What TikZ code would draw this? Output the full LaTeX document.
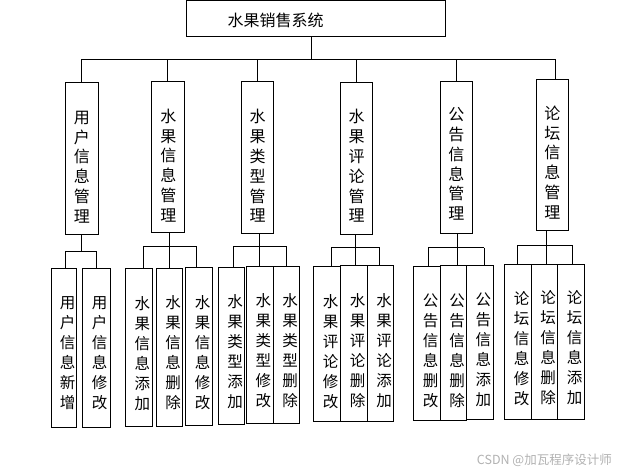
\documentclass[tikz,border=0pt]{standalone}
\usepackage{fontspec}
\newfontfamily\cjk{Noto Sans CJK SC}
\begin{document}
\begin{tikzpicture}[x=1pt,y=-1pt,
  box/.style={draw, line width=1pt, rectangle, inner sep=0pt},
  ln/.style={line width=1pt},
  vtA/.style={font=\cjk\fontsize{16}{19.8}\selectfont, align=center, inner sep=0pt},
  vtB/.style={font=\cjk\fontsize{15.5}{20}\selectfont, align=center, inner sep=0pt},
  ttl/.style={font=\cjk\fontsize{16}{19}\selectfont, inner sep=0pt},
  wm/.style={font=\cjk\fontsize{12.5}{14}\selectfont, text=black!30, inner sep=0pt}
]
\useasboundingbox (0,0) rectangle (618,471);
\fill[white] (0,0) rectangle (618,471);

% top box
\node[box, minimum width=259pt, minimum height=35.5pt] (top) at (315.5,18.25) {};
\node[ttl] (topt) at (275.5,20) {水果销售系统};

% level 1
\node[box, minimum width=33pt, minimum height=152pt] (m1) at (81.8,158) {};
\node[box, minimum width=33pt, minimum height=151pt] (m2) at (167.8,156.5) {};
\node[box, minimum width=32.4pt, minimum height=152pt] (m3) at (257.5,157) {};
\node[box, minimum width=32.4pt, minimum height=152pt] (m4) at (356.5,158) {};
\node[box, minimum width=32pt, minimum height=152pt] (m5) at (456.3,157) {};
\node[box, minimum width=32pt, minimum height=151pt] (m6) at (552.3,154.5) {};

\node[vtA] (m1t) at ([yshift=-9pt]m1.center) {用\\户\\信\\息\\管\\理};
\node[vtA] (m2t) at ([xshift=0.5pt,yshift=-9pt]m2.center) {水\\果\\信\\息\\管\\理};
\node[vtA] (m3t) at ([yshift=-9pt]m3.center) {水\\果\\类\\型\\管\\理};
\node[vtA] (m4t) at ([yshift=-8pt]m4.center) {水\\果\\评\\论\\管\\理};
\node[vtA] (m5t) at ([yshift=-7pt]m5.center) {公\\告\\信\\息\\管\\理};
\node[vtA] (m6t) at ([yshift=-8pt]m6.center) {论\\坛\\信\\息\\管\\理};

% top bus
\coordinate (j0) at (311,59);
\coordinate (j6) at (555.7,59);
\draw[ln] (top.south -| j0) -- (j0);
\draw[ln] (m1.north |- j0) -- (j6);
\draw[ln] (m1.north) -- (m1.north |- j0);
\draw[ln] (m2.north) -- (m2.north |- j0);
\draw[ln] (m3.north) -- (m3.north |- j0);
\draw[ln] (m4.north) -- (m4.north |- j0);
\draw[ln] (m5.north) -- (m5.north |- j0);
\draw[ln] (j6) -- (j6 |- m6.north);

% level 2
\node[box, minimum width=25.4pt, minimum height=159pt] (s11) at (64,347.5) {};
\node[box, minimum width=27.6pt, minimum height=159pt] (s12) at (96.5,347.5) {};
\node[box, minimum width=27pt, minimum height=158.4pt] (s21) at (138.8,347.5) {};
\node[box, minimum width=26pt, minimum height=158pt] (s22) at (169.7,347) {};
\node[box, minimum width=26.6pt, minimum height=158pt] (s23) at (199,346.3) {};
\node[box, minimum width=25.6pt, minimum height=157.3pt] (s31) at (231.5,345.7) {};
\node[box, minimum width=27pt, minimum height=157pt] (s32) at (259.8,344.8) {};
\node[box, minimum width=26.4pt, minimum height=157pt] (s33) at (286.5,344.5) {};
\node[box, minimum width=26.6pt, minimum height=155.3pt] (s41) at (327,344.3) {};
\node[box, minimum width=27.4pt, minimum height=155.7pt] (s42) at (354,343.8) {};
\node[box, minimum width=25.6pt, minimum height=155.7pt] (s43) at (380.5,343.8) {};
\node[box, minimum width=27pt, minimum height=154pt] (s51) at (427.2,343.3) {};
\node[box, minimum width=25.6pt, minimum height=154.7pt] (s52) at (453.5,343.3) {};
\node[box, minimum width=27pt, minimum height=153.7pt] (s53) at (479.8,342.8) {};
\node[box, minimum width=27.4pt, minimum height=155pt] (s61) at (518,341.8) {};
\node[box, minimum width=25.6pt, minimum height=155pt] (s62) at (544.5,341.5) {};
\node[box, minimum width=27.4pt, minimum height=155pt] (s63) at (571,341.5) {};

\node[vtB] (s11t) at ([xshift=3.5pt,yshift=-6pt]s11.center) {用\\户\\信\\息\\新\\增};
\node[vtB] (s12t) at ([xshift=3pt,yshift=-6pt]s12.center) {用\\户\\信\\息\\修\\改};
\node[vtB] (s21t) at ([xshift=3.5pt,yshift=-6pt]s21.center) {水\\果\\信\\息\\添\\加};
\node[vtB] (s22t) at ([xshift=3.5pt,yshift=-6pt]s22.center) {水\\果\\信\\息\\删\\除};
\node[vtB] (s23t) at ([xshift=3.5pt,yshift=-6pt]s23.center) {水\\果\\信\\息\\修\\改};
\node[vtB] (s31t) at ([xshift=3.5pt,yshift=-6pt]s31.center) {水\\果\\类\\型\\添\\加};
\node[vtB] (s32t) at ([xshift=3.5pt,yshift=-6pt]s32.center) {水\\果\\类\\型\\修\\改};
\node[vtB] (s33t) at ([xshift=3.5pt,yshift=-6pt]s33.center) {水\\果\\类\\型\\删\\除};
\node[vtB] (s41t) at ([xshift=3.5pt,yshift=-7pt]s41.center) {水\\果\\评\\论\\修\\改};
\node[vtB] (s42t) at ([xshift=3.5pt,yshift=-7pt]s42.center) {水\\果\\评\\论\\删\\除};
\node[vtB] (s43t) at ([xshift=3.5pt,yshift=-7pt]s43.center) {水\\果\\评\\论\\添\\加};
\node[vtB] (s51t) at ([xshift=3.5pt,yshift=-7pt]s51.center) {公\\告\\信\\息\\删\\改};
\node[vtB] (s52t) at ([xshift=3.5pt,yshift=-7pt]s52.center) {公\\告\\信\\息\\删\\除};
\node[vtB] (s53t) at ([xshift=3.5pt,yshift=-7pt]s53.center) {公\\告\\信\\息\\添\\加};
\node[vtB] (s61t) at ([xshift=3.5pt,yshift=-6.5pt]s61.center) {论\\坛\\信\\息\\修\\改};
\node[vtB] (s62t) at ([xshift=3.5pt,yshift=-6.5pt]s62.center) {论\\坛\\信\\息\\删\\除};
\node[vtB] (s63t) at ([xshift=3.5pt,yshift=-6.5pt]s63.center) {论\\坛\\信\\息\\添\\加};

% group connectors
% G1
\coordinate (g1L) at (65,251); \coordinate (g1M) at (81.5,251); \coordinate (g1R) at (96,251);
\draw[ln] (m1.south -| g1M) -- (g1M);
\draw[ln] (g1L) -- (g1R);
\draw[ln] (g1L) -- (g1L |- s11.north);
\draw[ln] (g1R) -- (g1R |- s12.north);
% G2
\coordinate (g2L) at (143.7,246); \coordinate (g2M) at (169,246); \coordinate (g2R) at (196.3,246);
\draw[ln] (m2.south -| g2M) -- (g2M);
\draw[ln] (g2L) -- (g2R);
\draw[ln] (g2L) -- (g2L |- s21.north);
\draw[ln] (g2M) -- (g2M |- s22.north);
\draw[ln] (g2R) -- (g2R |- s23.north);
% G3
\coordinate (g3L) at (233.7,246); \coordinate (g3M) at (259.3,246); \coordinate (g3R) at (286.3,246);
\draw[ln] (m3.south -| g3M) -- (g3M);
\draw[ln] (g3L) -- (g3R);
\draw[ln] (g3L) -- (g3L |- s31.north);
\draw[ln] (g3M) -- (g3M |- s32.north);
\draw[ln] (g3R) -- (g3R |- s33.north);
% G4
\coordinate (g4L) at (331.7,247.3); \coordinate (g4M) at (355.3,247.3); \coordinate (g4R) at (379.3,247.3);
\draw[ln] (m4.south -| g4M) -- (g4M);
\draw[ln] (g4L) -- (g4R);
\draw[ln] (g4L) -- (g4L |- s41.north);
\draw[ln] (g4M) -- (g4M |- s42.north);
\draw[ln] (g4R) -- (g4R |- s43.north);
% G5
\coordinate (g5L) at (428.3,247.7); \coordinate (g5M) at (457,247.7); \coordinate (g5R) at (484.3,247.7);
\draw[ln] (m5.south -| g5M) -- (g5M);
\draw[ln] (g5L) -- (g5R);
\draw[ln] (g5L) -- (g5L |- s51.north);
\draw[ln] (g5M) -- (g5M |- s52.north);
\draw[ln] (g5R) -- (g5R |- s53.north);
% G6
\coordinate (g6L) at (517.3,245.7); \coordinate (g6M) at (546.7,245.7); \coordinate (g6R) at (572.7,245.7);
\draw[ln] (m6.south -| g6M) -- (g6M);
\draw[ln] (g6L) -- (g6R);
\draw[ln] (g6L) -- (g6L |- s61.north);
\draw[ln] (g6M) -- (g6M |- s62.north);
\draw[ln] (g6R) -- (g6R |- s63.north);

% watermark
\node[wm, anchor=east] (wmk) at (612,460) {CSDN @加瓦程序设计师};
\end{tikzpicture}
\end{document}
